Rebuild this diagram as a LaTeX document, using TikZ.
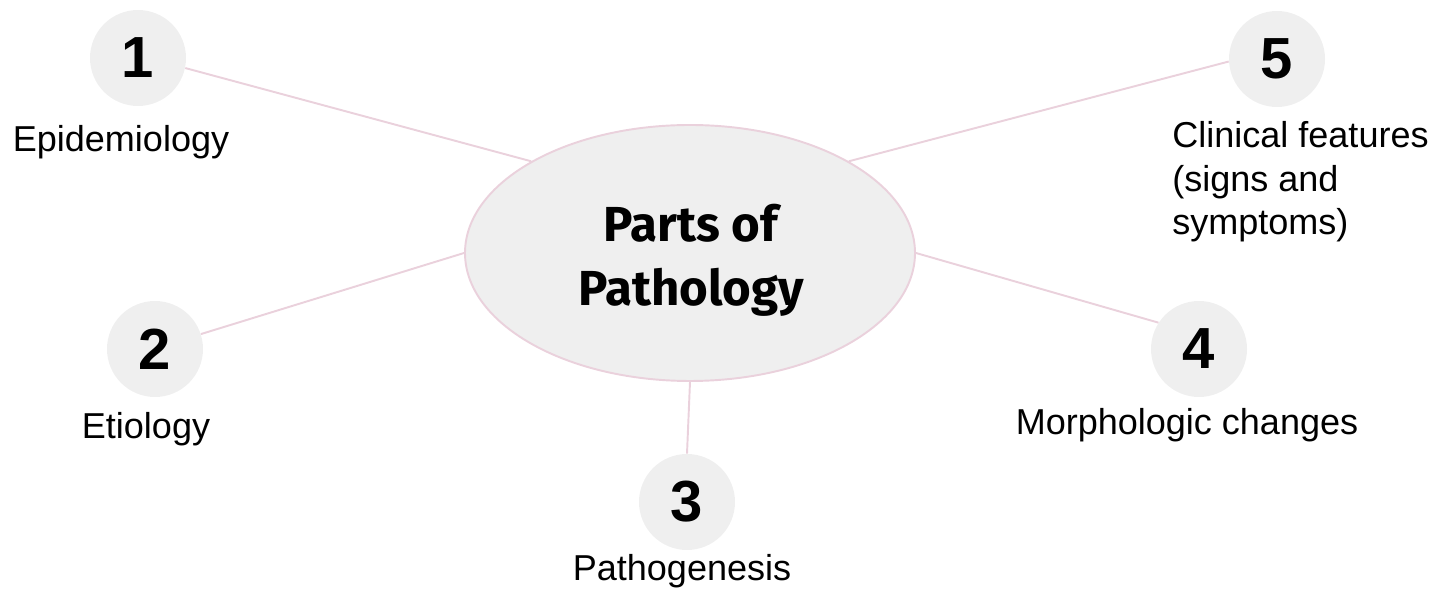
\documentclass[tikz,border=0pt]{standalone}
\usepackage{fontspec}
\setmainfont{Liberation Sans}
\newfontfamily\titlefont{Fira Sans}
\usetikzlibrary{shapes.geometric}
\definecolor{pinkline}{HTML}{EAD1DC}
\definecolor{softgray}{HTML}{EFEFEF}

\begin{document}
\begin{tikzpicture}[
    bubble/.style={circle, fill=softgray, minimum size=1.92cm, inner sep=0pt,
        font=\bfseries\fontsize{33}{33}\selectfont},
    part/.style={inner sep=0pt, font=\fontsize{20.5}{25}\selectfont},
    link/.style={draw=pinkline, line width=1.1pt}]

    \useasboundingbox (0,0) rectangle (28.6,11.78);

    % centre
    \node[ellipse, draw=pinkline, line width=1.1pt, fill=softgray, minimum width=9cm,
        minimum height=5.12cm, inner sep=0pt] (core) at (13.8,6.72) {};
    \node[align=center, inner sep=0pt, font=\titlefont\bfseries\fontsize{28}{36.3}\selectfont]
        (title) at (13.82,6.58) {Parts of\\Pathology};

    % numbered parts
    \node[bubble] (c1) at (2.76,10.62) {1};
    \node[bubble] (c2) at (3.10,4.80) {2};
    \node[bubble] (c3) at (13.74,1.74) {3};
    \node[bubble] (c4) at (23.98,4.80) {4};
    \node[bubble] (c5) at (25.54,10.60) {5};

    \node[part, anchor=base] (l1) at (2.42,8.74) {Epidemiology};
    \node[part, anchor=base] (l2) at (2.92,3.00) {Etiology};
    \node[part, anchor=base] (l3) at (13.64,0.16) {Pathogenesis};
    \node[part, anchor=base] (l4) at (23.74,3.08) {Morphologic changes};
    \node[part, anchor=base west, align=left] (l5) at (23.44,7.08)
        {Clinical features\\(signs and\\symptoms)};

    % links
    \draw[link] (core.150) -- (c1.-12);
    \draw[link] (core.180) -- (c2.18);
    \draw[link] (core.south) -- (c3.north);
    \draw[link] (core.0) -- (c4.147);
    \draw[link] (core.30) -- (c5.183);
\end{tikzpicture}
\end{document}
